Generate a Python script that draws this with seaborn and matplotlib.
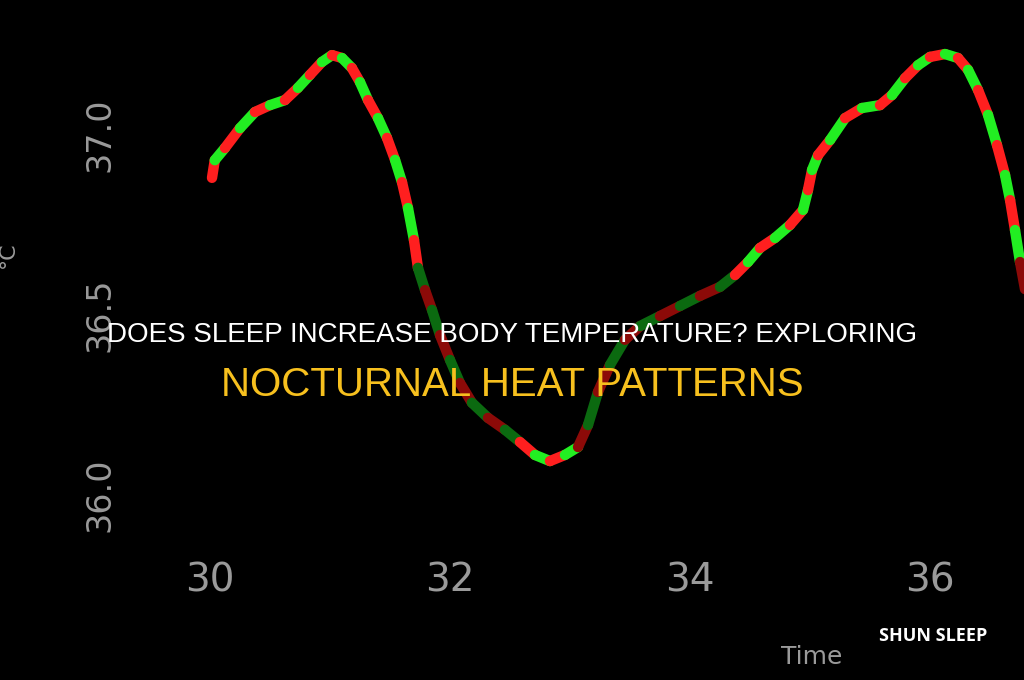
import numpy as np
import pandas as pd
import matplotlib
matplotlib.use("Agg")
import matplotlib.pyplot as plt
import seaborn as sns

# ---- data ----
hours = [30.017, 30.04, 30.125, 30.25, 30.375, 30.5, 30.625, 30.733, 30.833, 30.933,
         31.017, 31.1, 31.183, 31.25, 31.317, 31.4, 31.475, 31.542, 31.6, 31.65,
         31.7, 31.733, 31.792, 31.85, 31.917, 32.0, 32.083, 32.183, 32.317, 32.458,
         32.583, 32.708, 32.833, 32.958, 33.067, 33.15, 33.233, 33.333, 33.458, 33.583,
         33.75, 33.917, 34.083, 34.25, 34.375, 34.483, 34.583, 34.708, 34.833, 34.942,
         34.983, 35.017, 35.067, 35.167, 35.292, 35.433, 35.583, 35.683, 35.792, 35.9,
         36.0, 36.125, 36.233, 36.317, 36.4, 36.483, 36.558, 36.625, 36.667, 36.708,
         36.75, 36.8]
temps = [36.881, 36.93, 36.964, 37.019, 37.064, 37.083, 37.097, 37.131, 37.167, 37.203,
         37.222, 37.214, 37.186, 37.147, 37.097, 37.047, 36.992, 36.931, 36.869, 36.797,
         36.708, 36.631, 36.569, 36.514, 36.444, 36.375, 36.311, 36.256, 36.214, 36.181,
         36.147, 36.111, 36.094, 36.111, 36.133, 36.194, 36.286, 36.361, 36.431, 36.469,
         36.497, 36.525, 36.553, 36.578, 36.611, 36.647, 36.686, 36.714, 36.75, 36.792,
         36.847, 36.903, 36.944, 36.986, 37.047, 37.075, 37.083, 37.111, 37.158, 37.194,
         37.217, 37.225, 37.214, 37.181, 37.125, 37.056, 36.972, 36.889, 36.819, 36.736,
         36.647, 36.556]
x_ticks = [30, 32, 34, 36]
x_tick_labels = ["30", "32", "34", "36"]
y_ticks = [37.0, 36.5, 36.0]
y_tick_labels = ["37.0", "36.5", "36.0"]
title_line1 = "DOES SLEEP INCREASE BODY TEMPERATURE? EXPLORING"
title_line2 = "NOCTURNAL HEAT PATTERNS"
brand = "SHUN SLEEP"

# ---- build segment table ----
rows = []
palette = {}
for i in range(len(hours) - 1):
    seg = f"s{i}"
    mid = (temps[i] + temps[i + 1]) / 2
    dim = 36.15 < mid < 36.62
    if i % 2 == 0:
        palette[seg] = "#8c0a08" if dim else "#ff1f1f"
    else:
        palette[seg] = "#0b6a10" if dim else "#22ee22"
    rows.append((hours[i], temps[i], seg, i))
    rows.append((hours[i + 1], temps[i + 1], seg, i))
df = pd.DataFrame(rows, columns=["hour", "temp", "seg", "order"])

sns.set_theme(style="dark", rc={"axes.facecolor": "black", "figure.facecolor": "black"})
fig = plt.figure(figsize=(10.24, 6.8), dpi=100)
ax = fig.add_axes([140 / 1024, 125 / 680, 884 / 1024, 515 / 680])
ax.set_facecolor("black")

sns.lineplot(data=df, x="hour", y="temp", hue="seg", palette=palette, legend=False,
             estimator=None, sort=False, linewidth=7.5, ax=ax,
             solid_capstyle="round")

ax.set_xlim(29.417, 36.783)
ax.set_ylim(35.833, 37.264)
for s in ax.spines.values():
    s.set_visible(False)
ax.grid(False)

ax.set_xticks(x_ticks)
ax.set_xticklabels(x_tick_labels, fontsize=28, color="#9a9a9a")
ax.set_yticks(y_ticks)
ax.set_yticklabels(y_tick_labels, fontsize=24, color="#9a9a9a", rotation=90, va="center")
ax.tick_params(axis="x", length=0, pad=5)
ax.tick_params(axis="y", length=0, pad=17)
ax.set_xlabel("Time", fontsize=18, color="#9a9a9a")
ax.xaxis.set_label_coords((812 - 140) / 884, -0.175)
ax.set_ylabel("°C", fontsize=16, color="#9a9a9a")
ax.yaxis.set_label_coords((18 - 140) / 884, (555 - 255) / 515)

fig.text(0.5, 1 - 335 / 680, title_line1, color="white", fontsize=20,
         family="Liberation Sans", ha="center", va="center")
fig.text(0.5, 1 - 385 / 680, title_line2, color="#f7c01e", fontsize=29,
         family="Liberation Sans", ha="center", va="center")
fig.text(933 / 1024, 1 - 636 / 680, brand, color="white", fontsize=13,
         family="Open Sans", fontweight="bold", ha="center", va="center")

fig.savefig("out.png", dpi=100, facecolor="black")
